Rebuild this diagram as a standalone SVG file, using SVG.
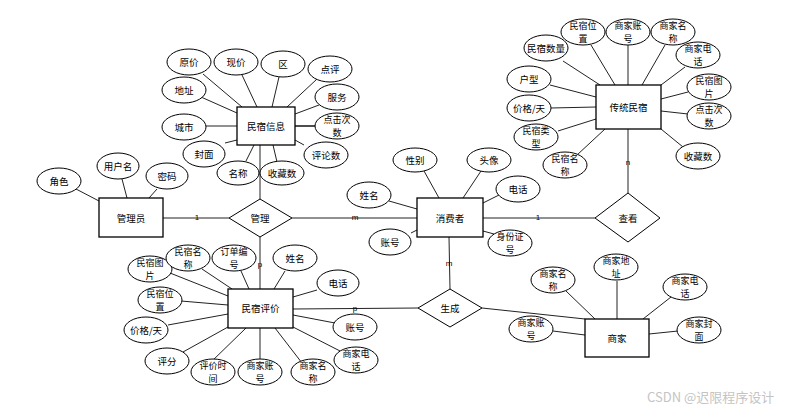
<svg xmlns="http://www.w3.org/2000/svg" width="796" height="411" viewBox="0 0 796 411">
<style>
.e{fill:#fff;stroke:#000;stroke-width:1}
.r{fill:#fff;stroke:#000;stroke-width:1.3}
.d{fill:#fff;stroke:#000;stroke-width:1}
.c line{stroke:#222;stroke-width:1}
text{font-family:"Noto Sans CJK SC","Liberation Sans",sans-serif;font-size:9.5px;fill:#000;text-anchor:middle}
.t2{font-size:9px}
.k{font-family:"Liberation Sans",sans-serif;font-size:8px}
.w{font-size:13px;fill:#c4c4c4;text-anchor:start}
</style>
<rect width="796" height="411" fill="#fff"/>
<g id="connectors" class="c">
<line x1="260" y1="145" x2="260" y2="199"/>
<line x1="163" y1="218" x2="229" y2="218"/>
<line x1="292" y1="218" x2="417" y2="218"/>
<line x1="260" y1="237" x2="260" y2="289"/>
<line x1="483" y1="218" x2="595" y2="218"/>
<line x1="628" y1="129" x2="628" y2="193"/>
<line x1="449" y1="237" x2="450" y2="289"/>
<line x1="293" y1="309" x2="418" y2="308"/>
<line x1="482" y1="308" x2="585" y2="319"/>
<line x1="203" y1="74" x2="242" y2="107"/>
<line x1="242" y1="75" x2="257" y2="107"/>
<line x1="279" y1="77" x2="272" y2="107"/>
<line x1="317" y1="79" x2="287" y2="107"/>
<line x1="201" y1="97" x2="237" y2="113"/>
<line x1="319" y1="105" x2="295" y2="114"/>
<line x1="205" y1="126" x2="237" y2="126"/>
<line x1="295" y1="126" x2="316" y2="126" style="stroke-width:1.6"/>
<line x1="225" y1="143" x2="237" y2="140"/>
<line x1="246" y1="161" x2="254" y2="145"/>
<line x1="277" y1="162" x2="273" y2="145"/>
<line x1="304" y1="145" x2="295" y2="140"/>
<line x1="76" y1="189" x2="99" y2="201"/>
<line x1="122" y1="179" x2="127" y2="198"/>
<line x1="157" y1="189" x2="149" y2="198"/>
<line x1="424" y1="171" x2="439" y2="198"/>
<line x1="481" y1="171" x2="463" y2="198"/>
<line x1="389" y1="201" x2="417" y2="209"/>
<line x1="499" y1="195" x2="483" y2="203"/>
<line x1="411" y1="233" x2="417" y2="230"/>
<line x1="494" y1="234" x2="483" y2="231"/>
<line x1="170" y1="273" x2="228" y2="296"/>
<line x1="202" y1="269" x2="232" y2="289"/>
<line x1="241" y1="271" x2="249" y2="289"/>
<line x1="285" y1="271" x2="274" y2="289"/>
<line x1="317" y1="290" x2="293" y2="297"/>
<line x1="181" y1="301" x2="228" y2="305"/>
<line x1="168" y1="325" x2="228" y2="314"/>
<line x1="183" y1="352" x2="228" y2="327"/>
<line x1="210" y1="363" x2="246" y2="328"/>
<line x1="260" y1="359" x2="260" y2="328"/>
<line x1="302" y1="363" x2="275" y2="328"/>
<line x1="342" y1="352" x2="293" y2="327"/>
<line x1="335" y1="323" x2="293" y2="315"/>
<line x1="591" y1="45" x2="615" y2="85"/>
<line x1="628" y1="45" x2="628" y2="85"/>
<line x1="665" y1="45" x2="642" y2="85"/>
<line x1="563" y1="61" x2="600" y2="85"/>
<line x1="685" y1="67" x2="661" y2="85"/>
<line x1="550" y1="85" x2="596" y2="97"/>
<line x1="688" y1="92" x2="661" y2="99"/>
<line x1="551" y1="108" x2="596" y2="107"/>
<line x1="688" y1="114" x2="661" y2="111"/>
<line x1="558" y1="131" x2="596" y2="119"/>
<line x1="683" y1="147" x2="661" y2="129"/>
<line x1="577" y1="155" x2="605" y2="129"/>
<line x1="566" y1="291" x2="595" y2="319"/>
<line x1="617" y1="281" x2="617" y2="319"/>
<line x1="671" y1="297" x2="643" y2="319"/>
<line x1="553" y1="331" x2="585" y2="335"/>
<line x1="678" y1="331" x2="649" y2="334"/>
</g>
<g id="cardinalities">
<text class="k" x="197" y="220">1</text>
<text class="k" x="355" y="220">m</text>
<text class="k" x="260" y="267">p</text>
<text class="k" x="355" y="311">p</text>
<text class="k" x="449" y="266">m</text>
<text class="k" x="538" y="220">1</text>
<text class="k" x="628" y="165">n</text>
</g>
<g id="rel-guanli"><polygon class="d" points="229,218 260,199 292,218 260,237"/><text x="260" y="221.5">管理</text></g>
<g id="rel-chakan"><polygon class="d" points="595,218 628,193 660,218 628,242"/><text x="628" y="221.5">查看</text></g>
<g id="rel-shengcheng"><polygon class="d" points="418,308 450,289 482,308 450,327"/><text x="450" y="311.5">生成</text></g>
<g id="ent-info"><rect class="r" x="237" y="107" width="58" height="38"/><text x="266" y="129.5">民宿信息</text></g>
<g id="ent-admin"><rect class="r" x="99" y="198" width="64" height="39"/><text x="131" y="221.5">管理员</text></g>
<g id="ent-consumer"><rect class="r" x="417" y="198" width="66" height="39"/><text x="450" y="221.5">消费者</text></g>
<g id="ent-review"><rect class="r" x="228" y="289" width="65" height="39"/><text x="260.5" y="311.5">民宿评价</text></g>
<g id="ent-trad"><rect class="r" x="596" y="85" width="65" height="44"/><text x="628.5" y="110.5">传统民宿</text></g>
<g id="ent-merchant"><rect class="r" x="585" y="319" width="64" height="38"/><text x="617" y="341.5">商家</text></g>
<g id="info-yuanjia"><ellipse class="e" cx="189" cy="62" rx="22" ry="13"/><text x="189" y="65.5">原价</text></g>
<g id="info-xianjia"><ellipse class="e" cx="236" cy="62" rx="22" ry="13"/><text x="236" y="65.5">现价</text></g>
<g id="info-qu"><ellipse class="e" cx="283" cy="64" rx="22" ry="13"/><text x="283" y="67.5">区</text></g>
<g id="info-dianping"><ellipse class="e" cx="330" cy="69" rx="22" ry="13"/><text x="330" y="72.5">点评</text></g>
<g id="info-dizhi"><ellipse class="e" cx="184" cy="90" rx="22" ry="13"/><text x="184" y="93.5">地址</text></g>
<g id="info-fuwu"><ellipse class="e" cx="337" cy="97" rx="22" ry="13"/><text x="337" y="100.5">服务</text></g>
<g id="info-chengshi"><ellipse class="e" cx="184" cy="127" rx="22" ry="13"/><text x="184" y="130.5">城市</text></g>
<g id="info-dianji"><ellipse class="e" cx="337" cy="126" rx="22" ry="13"/><text class="t2" x="337" y="122.6">点击次<tspan x="337" dy="13.3">数</tspan></text></g>
<g id="info-fengmian"><ellipse class="e" cx="204" cy="154" rx="21" ry="13"/><text x="204" y="157.5">封面</text></g>
<g id="info-mingcheng"><ellipse class="e" cx="238" cy="173" rx="21" ry="12"/><text x="238" y="176.5">名称</text></g>
<g id="info-shoucang"><ellipse class="e" cx="282" cy="173" rx="22" ry="12"/><text x="282" y="176.5">收藏数</text></g>
<g id="info-pinglun"><ellipse class="e" cx="326" cy="155" rx="22" ry="13"/><text x="326" y="158.5">评论数</text></g>
<g id="admin-yonghuming"><ellipse class="e" cx="118" cy="166" rx="21" ry="13"/><text x="118" y="169.5">用户名</text></g>
<g id="admin-mima"><ellipse class="e" cx="167" cy="176" rx="21" ry="13"/><text x="167" y="179.5">密码</text></g>
<g id="admin-juese"><ellipse class="e" cx="59" cy="181" rx="22" ry="13"/><text x="59" y="184.5">角色</text></g>
<g id="con-xingbie"><ellipse class="e" cx="415" cy="160" rx="22" ry="12"/><text x="415" y="163.5">性别</text></g>
<g id="con-touxiang"><ellipse class="e" cx="489" cy="160" rx="22" ry="12"/><text x="489" y="163.5">头像</text></g>
<g id="con-xingming"><ellipse class="e" cx="369" cy="195" rx="22" ry="13"/><text x="369" y="198.5">姓名</text></g>
<g id="con-dianhua"><ellipse class="e" cx="518" cy="189" rx="22" ry="13"/><text x="518" y="192.5">电话</text></g>
<g id="con-zhanghao"><ellipse class="e" cx="390" cy="242" rx="21" ry="13"/><text x="390" y="245.5">账号</text></g>
<g id="con-shenfenzheng"><ellipse class="e" cx="510" cy="243" rx="22" ry="13"/><text class="t2" x="510" y="239.6">身份证<tspan x="510" dy="13.3">号</tspan></text></g>
<g id="rev-tupian"><ellipse class="e" cx="150" cy="269" rx="22" ry="13"/><text class="t2" x="150" y="265.6">民宿图<tspan x="150" dy="13.3">片</tspan></text></g>
<g id="rev-mingcheng"><ellipse class="e" cx="188" cy="258" rx="22" ry="13"/><text class="t2" x="188" y="254.6">民宿名<tspan x="188" dy="13.3">称</tspan></text></g>
<g id="rev-dingdan"><ellipse class="e" cx="234" cy="258" rx="22" ry="13"/><text class="t2" x="234" y="254.6">订单编<tspan x="234" dy="13.3">号</tspan></text></g>
<g id="rev-xingming"><ellipse class="e" cx="295" cy="258" rx="22" ry="13"/><text x="295" y="261.5">姓名</text></g>
<g id="rev-dianhua"><ellipse class="e" cx="338" cy="283" rx="21" ry="13"/><text x="338" y="286.5">电话</text></g>
<g id="rev-weizhi"><ellipse class="e" cx="160" cy="300" rx="22" ry="13"/><text class="t2" x="160" y="296.6">民宿位<tspan x="160" dy="13.3">置</tspan></text></g>
<g id="rev-jiage"><ellipse class="e" cx="146" cy="330" rx="22" ry="13"/><text x="146" y="333.5">价格/天</text></g>
<g id="rev-pingfen"><ellipse class="e" cx="167" cy="361" rx="22" ry="13"/><text x="167" y="364.5">评分</text></g>
<g id="rev-shijian"><ellipse class="e" cx="213" cy="372" rx="22" ry="13"/><text class="t2" x="213" y="368.6">评价时<tspan x="213" dy="13.3">间</tspan></text></g>
<g id="rev-sjzhanghao"><ellipse class="e" cx="260" cy="372" rx="22" ry="13"/><text class="t2" x="260" y="368.6">商家账<tspan x="260" dy="13.3">号</tspan></text></g>
<g id="rev-sjmingcheng"><ellipse class="e" cx="313" cy="372" rx="22" ry="13"/><text class="t2" x="313" y="368.6">商家名<tspan x="313" dy="13.3">称</tspan></text></g>
<g id="rev-sjdianhua"><ellipse class="e" cx="356" cy="360" rx="22" ry="13"/><text class="t2" x="356" y="356.6">商家电<tspan x="356" dy="13.3">话</tspan></text></g>
<g id="rev-zhanghao"><ellipse class="e" cx="355" cy="327" rx="22" ry="13"/><text x="355" y="330.5">账号</text></g>
<g id="trad-weizhi"><ellipse class="e" cx="583" cy="32" rx="22" ry="13"/><text class="t2" x="583" y="28.6">民宿位<tspan x="583" dy="13.3">置</tspan></text></g>
<g id="trad-sjzhanghao"><ellipse class="e" cx="628" cy="32" rx="22" ry="13"/><text class="t2" x="628" y="28.6">商家账<tspan x="628" dy="13.3">号</tspan></text></g>
<g id="trad-sjmingcheng"><ellipse class="e" cx="673" cy="32" rx="22" ry="13"/><text class="t2" x="673" y="28.6">商家名<tspan x="673" dy="13.3">称</tspan></text></g>
<g id="trad-shuliang"><ellipse class="e" cx="546" cy="48" rx="22" ry="13"/><text x="546" y="51.5">民宿数量</text></g>
<g id="trad-sjdianhua"><ellipse class="e" cx="698" cy="55" rx="22" ry="13"/><text class="t2" x="698" y="51.6">商家电<tspan x="698" dy="13.3">话</tspan></text></g>
<g id="trad-huxing"><ellipse class="e" cx="529" cy="79" rx="22" ry="13"/><text x="529" y="82.5">户型</text></g>
<g id="trad-tupian"><ellipse class="e" cx="709" cy="87" rx="22" ry="13"/><text class="t2" x="709" y="83.6">民宿图<tspan x="709" dy="13.3">片</tspan></text></g>
<g id="trad-jiage"><ellipse class="e" cx="529" cy="108" rx="22" ry="13"/><text x="529" y="111.5">价格/天</text></g>
<g id="trad-dianji"><ellipse class="e" cx="709" cy="116" rx="22" ry="13"/><text class="t2" x="709" y="112.6">点击次<tspan x="709" dy="13.3">数</tspan></text></g>
<g id="trad-leixing"><ellipse class="e" cx="536" cy="137" rx="22" ry="13"/><text class="t2" x="536" y="133.6">民宿类<tspan x="536" dy="13.3">型</tspan></text></g>
<g id="trad-shoucang"><ellipse class="e" cx="698" cy="156" rx="22" ry="13"/><text x="698" y="159.5">收藏数</text></g>
<g id="trad-mingcheng"><ellipse class="e" cx="565" cy="165" rx="22" ry="13"/><text class="t2" x="565" y="161.6">民宿名<tspan x="565" dy="13.3">称</tspan></text></g>
<g id="mer-mingcheng"><ellipse class="e" cx="553" cy="280" rx="22" ry="13"/><text class="t2" x="553" y="276.6">商家名<tspan x="553" dy="13.3">称</tspan></text></g>
<g id="mer-dizhi"><ellipse class="e" cx="616" cy="267" rx="22" ry="13"/><text class="t2" x="616" y="263.6">商家地<tspan x="616" dy="13.3">址</tspan></text></g>
<g id="mer-dianhua"><ellipse class="e" cx="685" cy="287" rx="22" ry="13"/><text class="t2" x="685" y="283.6">商家电<tspan x="685" dy="13.3">话</tspan></text></g>
<g id="mer-zhanghao"><ellipse class="e" cx="531" cy="329" rx="22" ry="13"/><text class="t2" x="531" y="325.6">商家账<tspan x="531" dy="13.3">号</tspan></text></g>
<g id="mer-fengmian"><ellipse class="e" cx="699" cy="330" rx="22" ry="13"/><text class="t2" x="699" y="326.6">商家封<tspan x="699" dy="13.3">面</tspan></text></g>
<text class="w" x="647" y="402">CSDN @迟限程序设计</text>
</svg>
